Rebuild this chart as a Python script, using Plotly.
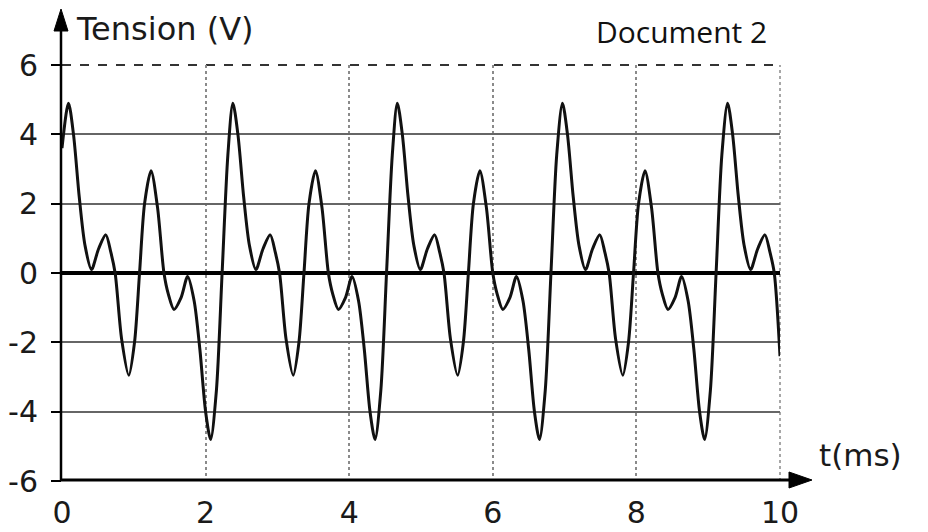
import plotly.graph_objects as go

# ---- data ----
t_ms = [0.00, 0.09, 0.16, 0.24, 0.32, 0.41, 0.51, 0.61, 0.68, 0.74, 0.83, 0.93, 1.01, 1.08, 1.15, 1.24, 1.33, 1.42, 1.48, 1.56, 1.66, 1.75, 1.84, 1.92, 2.00, 2.07, 2.15, 2.23, 2.31,
        2.38, 2.45, 2.53, 2.61, 2.70, 2.80, 2.90, 2.97, 3.03, 3.12, 3.22, 3.30, 3.37, 3.44, 3.53, 3.62, 3.71, 3.77, 3.85, 3.95, 4.04, 4.13, 4.21, 4.29, 4.36, 4.44, 4.52, 4.60,
        4.67, 4.74, 4.82, 4.90, 4.99, 5.09, 5.19, 5.26, 5.32, 5.41, 5.51, 5.59, 5.66, 5.73, 5.82, 5.91, 6.00, 6.06, 6.14, 6.24, 6.33, 6.42, 6.50, 6.58, 6.65, 6.73, 6.81, 6.89,
        6.97, 7.04, 7.12, 7.20, 7.29, 7.39, 7.49, 7.56, 7.62, 7.71, 7.81, 7.89, 7.96, 8.03, 8.12, 8.21, 8.30, 8.36, 8.44, 8.54, 8.63, 8.72, 8.80, 8.88, 8.95, 9.03, 9.11, 9.19,
        9.27, 9.34, 9.42, 9.50, 9.59, 9.69, 9.79, 9.86, 9.92, 10.00]
tension_v = [3.6, 4.9, 4.0, 2.2, 0.8, 0.1, 0.7, 1.1, 0.6, 0.0, -1.9, -2.95, -2.0, 0.0, 2.0, 2.95, 1.9, 0.0, -0.6, -1.05, -0.7, -0.1, -0.8, -2.2, -4.0, -4.8, -3.4, 0.0, 3.4,
             4.9, 4.0, 2.2, 0.8, 0.1, 0.7, 1.1, 0.6, 0.0, -1.9, -2.95, -2.0, 0.0, 2.0, 2.95, 1.9, 0.0, -0.6, -1.05, -0.7, -0.1, -0.8, -2.2, -4.0, -4.8, -3.4, 0.0, 3.4,
             4.9, 4.0, 2.2, 0.8, 0.1, 0.7, 1.1, 0.6, 0.0, -1.9, -2.95, -2.0, 0.0, 2.0, 2.95, 1.9, 0.0, -0.6, -1.05, -0.7, -0.1, -0.8, -2.2, -4.0, -4.8, -3.4, 0.0, 3.4,
             4.9, 4.0, 2.2, 0.8, 0.1, 0.7, 1.1, 0.6, 0.0, -1.9, -2.95, -2.0, 0.0, 2.0, 2.95, 1.9, 0.0, -0.6, -1.05, -0.7, -0.1, -0.8, -2.2, -4.0, -4.8, -3.4, 0.0, 3.4,
             4.9, 4.0, 2.2, 0.8, 0.1, 0.7, 1.1, 0.6, 0.0, -2.4]

x_ticks = [0, 2, 4, 6, 8, 10]
y_ticks = [-6, -4, -2, 0, 2, 4, 6]
y_label = "Tension (V)"
x_label = "t(ms)"
doc_title = "Document 2"

# page body has an 8px margin: figure is drawn from (8, 8)
OFF = 8
W, H = 928 - OFF, 532 - OFF
ML, MR, MT, MB = 62 - OFF, 148, 65 - OFF, 51
PW, PH = W - ML - MR, H - MT - MB

def px(xs):
    return (xs - OFF - ML) / PW

def py(ys):
    return (H - MB - (ys - OFF)) / PH

fig = go.Figure()
fig.add_trace(go.Scatter(
    x=t_ms, y=tension_v, mode="lines",
    line=dict(color="#111111", width=3, shape="spline", smoothing=0.8),
    showlegend=False, hoverinfo="skip", cliponaxis=False,
))

FONT = "DejaVu Sans, Liberation Sans, Arial, sans-serif"
tick_font = dict(family=FONT, size=30, color="#1a1a1a")

fig.update_xaxes(
    range=[0, 10], tickvals=x_ticks, ticktext=[str(v) for v in x_ticks],
    showgrid=True, gridcolor="#8a8a8a", gridwidth=1.5, griddash="dot",
    zeroline=False, showline=False, ticks="", ticklabelstandoff=11,
    tickfont=tick_font,
)
fig.update_yaxes(
    range=[-6, 6], tickvals=y_ticks, ticktext=[str(v) for v in y_ticks],
    showgrid=True, gridcolor="#666666", gridwidth=2,
    zeroline=True, zerolinecolor="#000000", zerolinewidth=4,
    showline=False, ticks="outside", ticklen=10, tickcolor="#000", tickwidth=2,
    ticklabelstandoff=7, tickfont=tick_font,
)

shapes = []
# top border (dashed) and right border (dotted) of the grid
shapes.append(dict(type="line", xref="paper", yref="paper", x0=0, x1=1, y0=1, y1=1,
                   line=dict(color="#333", width=2, dash="dash"), layer="below"))
shapes.append(dict(type="line", xref="paper", yref="paper", x0=1, x1=1, y0=0, y1=1,
                   line=dict(color="#8a8a8a", width=1.5, dash="dot"), layer="below"))
# y axis line with arrow
shapes.append(dict(type="line", xref="paper", yref="paper", x0=px(61), x1=px(61), y0=py(481), y1=py(28),
                   line=dict(color="#000", width=2.5), layer="above"))
shapes.append(dict(type="path", xref="paper", yref="paper",
                   path=f"M {px(61)},{py(9)} L {px(54)},{py(31)} L {px(68)},{py(31)} Z",
                   fillcolor="#000", line=dict(color="#000", width=1), layer="above"))
# x axis line with arrow
shapes.append(dict(type="line", xref="paper", yref="paper", x0=px(61), x1=px(792), y0=py(480), y1=py(480),
                   line=dict(color="#000", width=3), layer="above"))
shapes.append(dict(type="path", xref="paper", yref="paper",
                   path=f"M {px(812)},{py(480)} L {px(789)},{py(472)} L {px(789)},{py(488)} Z",
                   fillcolor="#000", line=dict(color="#000", width=1), layer="above"))

annotations = [
    dict(text=y_label, xref="paper", yref="paper", x=px(74), y=py(29), xanchor="left", yanchor="middle",
         showarrow=False, font=dict(family=FONT, size=32, color="#1a1a1a")),
    dict(text=x_label, xref="paper", yref="paper", x=px(817), y=py(455), xanchor="left", yanchor="middle",
         showarrow=False, font=dict(family=FONT, size=31, color="#1a1a1a")),
    dict(text=doc_title, xref="paper", yref="paper", x=px(594), y=py(31), xanchor="left", yanchor="middle",
         showarrow=False, font=dict(family="Open Sans, Lato, sans-serif", size=30, color="#111")),
]

fig.update_layout(
    width=W, height=H, margin=dict(l=ML, r=MR, t=MT, b=MB, autoexpand=False),
    paper_bgcolor="white", plot_bgcolor="white",
    shapes=shapes, annotations=annotations,
)

fig.write_html("out.html")
